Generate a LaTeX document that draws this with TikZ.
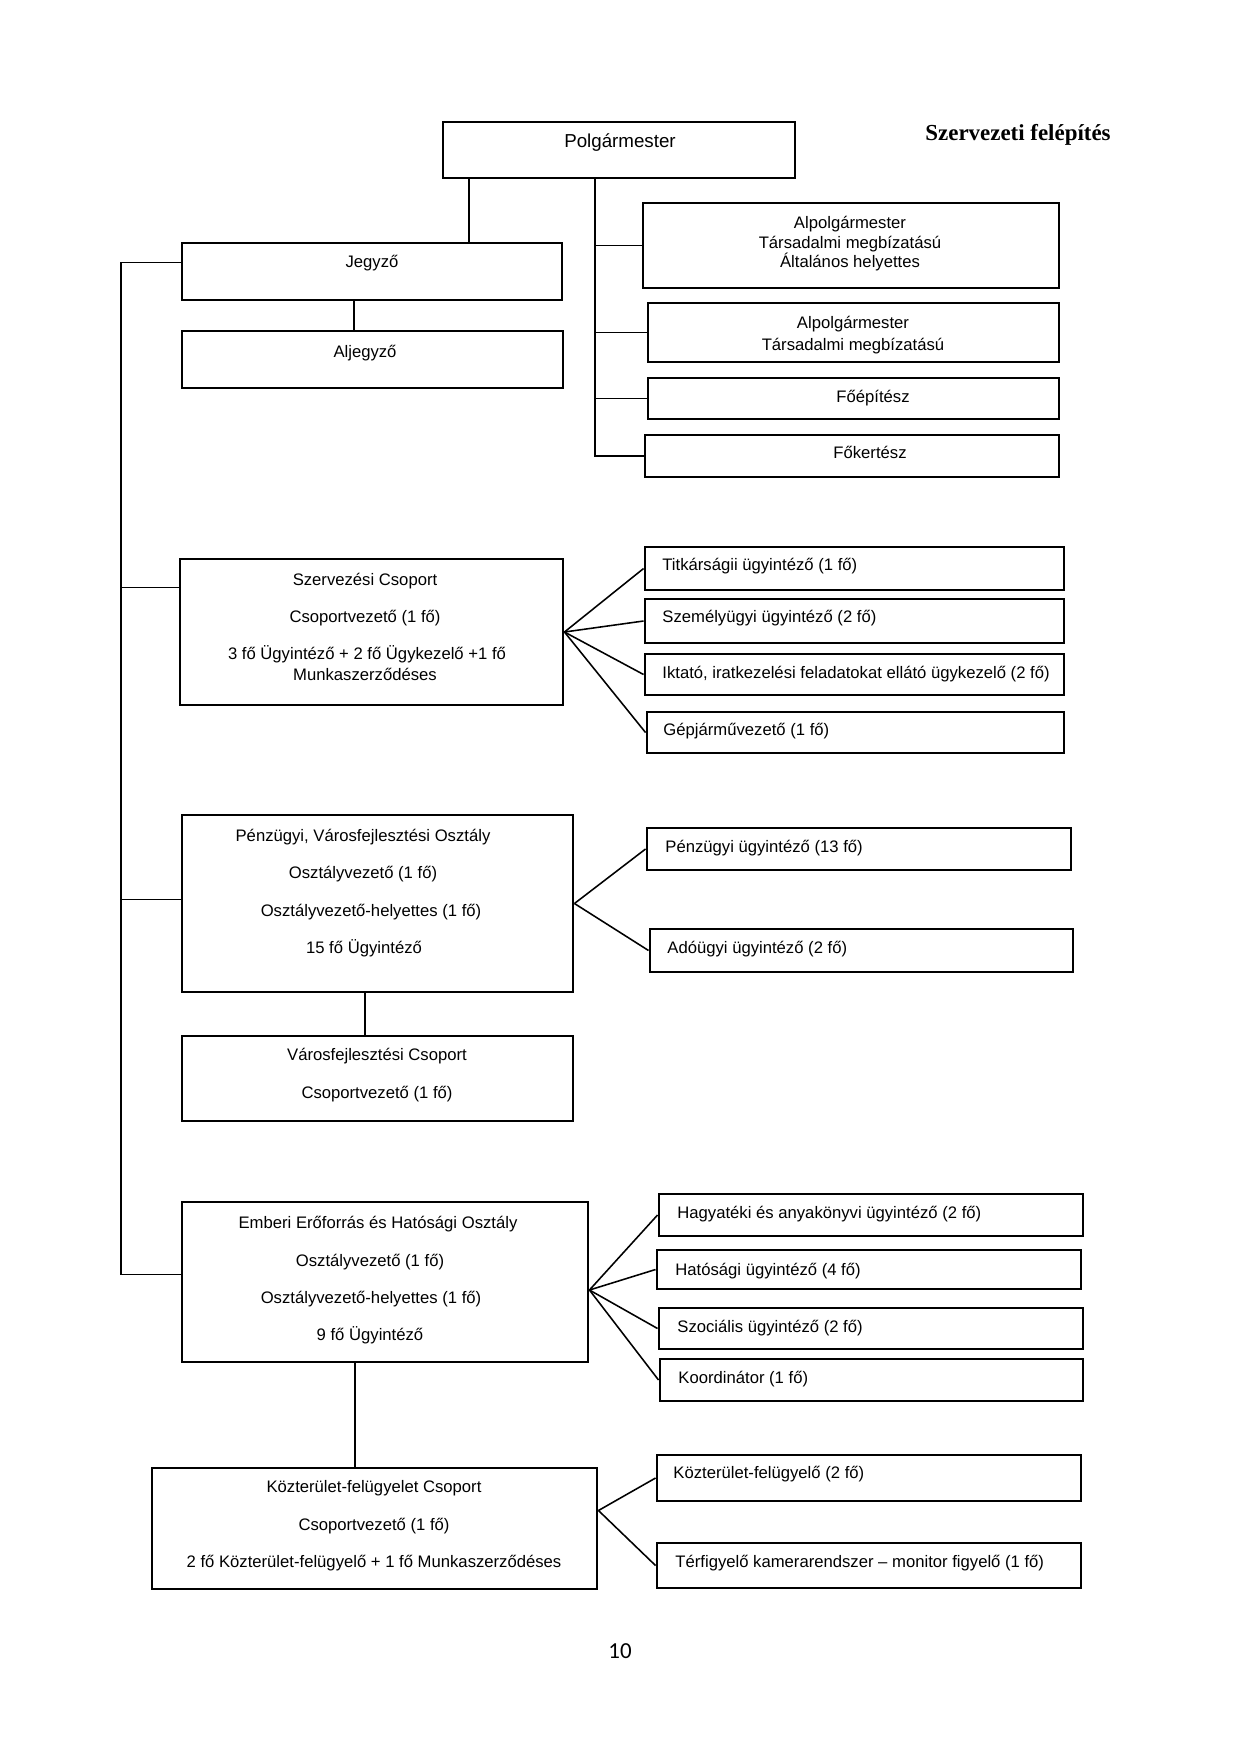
\documentclass[tikz,border=0pt]{standalone}
\usepackage{fontspec}
\setmainfont{Liberation Sans}
\newfontfamily\titlefont{Liberation Serif}
\newfontfamily\pagefont{Carlito}
\usetikzlibrary{fit,calc}
\tikzset{
  orgbox/.style={draw, line width=1.4pt, inner sep=0pt, rectangle},
  conn/.style={line width=0.75pt},
  txt/.style={inner sep=0pt, anchor=mid, font=\fontsize{8}{9.6}\selectfont},
  ltxt/.style={inner sep=0pt, anchor=mid west, font=\fontsize{8}{9.6}\selectfont},
}
\begin{document}
\begin{tikzpicture}[x=0.48pt,y=-0.48pt]
\useasboundingbox (0,0) rectangle (1240,1755);
\fill[white] (0,0) rectangle (1240,1755);

% title
\node[inner sep=0pt, font=\titlefont\bfseries\fontsize{11}{13}\selectfont] (title) at (1018,135) {Szervezeti felépítés};

% boxes
\node[orgbox, fit={(443,122)(795,178)}] (polg) {};
\node[orgbox, fit={(182,243)(562,300)}] (jegyzo) {};
\node[orgbox, fit={(182,331)(563,388)}] (aljegyzo) {};
\node[orgbox, fit={(643,203)(1059,288)}] (alp1) {};
\node[orgbox, fit={(648,303)(1059,362)}] (alp2) {};
\node[orgbox, fit={(648,378)(1059,419)}] (foep) {};
\node[orgbox, fit={(645,435)(1059,477)}] (foker) {};
\node[orgbox, fit={(180,559)(563,705)}] (szerv) {};
\node[orgbox, fit={(645,547)(1064,590)}] (titk) {};
\node[orgbox, fit={(645,599)(1064,643)}] (szem) {};
\node[orgbox, fit={(645,654)(1064,695)}] (ikt) {};
\node[orgbox, fit={(647,712)(1064,753)}] (gep) {};
\node[orgbox, fit={(182,815)(573,992)}] (penz) {};
\node[orgbox, fit={(647,828)(1071,870)}] (pu) {};
\node[orgbox, fit={(650,929)(1073,972)}] (ado) {};
\node[orgbox, fit={(182,1036)(573,1121)}] (varos) {};
\node[orgbox, fit={(182,1202)(588,1362)}] (emb) {};
\node[orgbox, fit={(659,1194)(1083,1236)}] (hagy) {};
\node[orgbox, fit={(657,1250)(1081,1289)}] (hat) {};
\node[orgbox, fit={(659,1308)(1083,1349)}] (szoc) {};
\node[orgbox, fit={(660,1359)(1083,1401)}] (koord) {};
\node[orgbox, fit={(152,1468)(597,1589)}] (kozt) {};
\node[orgbox, fit={(657,1455)(1081,1501)}] (kf) {};
\node[orgbox, fit={(657,1543)(1081,1588)}] (ter) {};

% texts
\node[txt, font=\fontsize{9}{11}\selectfont] (tpolg) at (620,142) {Polgármester};
\node[txt] (tjegy) at (372,262) {Jegyző};
\node[txt] (talj) at (365,352) {Aljegyző};
\node[txt] (ta1a) at (850,223) {Alpolgármester};
\node[txt] (ta1b) at (850,243) {Társadalmi megbízatású};
\node[txt] (ta1c) at (850,262) {Általános helyettes};
\node[txt] (ta2a) at (853,323) {Alpolgármester};
\node[txt] (ta2b) at (853,345) {Társadalmi megbízatású};
\node[txt] (tfoep) at (873,397) {Főépítész};
\node[txt] (tfok) at (870,453) {Főkertész};

\node[txt] (ts1) at (365,580) {Szervezési Csoport};
\node[txt] (ts2) at (365,617) {Csoportvezető (1 fő)};
\node[txt] (ts3) at (367,654) {3 fő Ügyintéző + 2 fő Ügykezelő +1 fő};
\node[txt] (ts4) at (365,675) {Munkaszerződéses};
\node[ltxt] (ttitk) at (662,565) {Titkárságii ügyintéző (1 fő)};
\node[ltxt] (tszem) at (662,617) {Személyügyi ügyintéző (2 fő)};
\node[ltxt] (tikt) at (662,673) {Iktató, iratkezelési feladatokat ellátó ügykezelő (2 fő)};
\node[ltxt] (tgep) at (663,730) {Gépjárművezető (1 fő)};

\node[txt] (tp1) at (363,836) {Pénzügyi, Városfejlesztési Osztály};
\node[txt] (tp2) at (363,873) {Osztályvezető (1 fő)};
\node[txt] (tp3) at (371,911) {Osztályvezető-helyettes (1 fő)};
\node[txt] (tp4) at (364,948) {15 fő Ügyintéző};
\node[ltxt] (tpu) at (665,847) {Pénzügyi ügyintéző (13 fő)};
\node[ltxt] (tado) at (667,948) {Adóügyi ügyintéző (2 fő)};
\node[txt] (tv1) at (377,1055) {Városfejlesztési Csoport};
\node[txt] (tv2) at (377,1093) {Csoportvezető (1 fő)};

\node[txt] (te1) at (378,1223) {Emberi Erőforrás és Hatósági Osztály};
\node[txt] (te2) at (370,1261) {Osztályvezető (1 fő)};
\node[txt] (te3) at (371,1298) {Osztályvezető-helyettes (1 fő)};
\node[txt] (te4) at (370,1335) {9 fő Ügyintéző};
\node[ltxt] (thagy) at (677,1213) {Hagyatéki és anyakönyvi ügyintéző (2 fő)};
\node[ltxt] (that) at (675,1270) {Hatósági ügyintéző (4 fő)};
\node[ltxt] (tszoc) at (677,1327) {Szociális ügyintéző (2 fő)};
\node[ltxt] (tkoord) at (678,1378) {Koordinátor (1 fő)};

\node[txt] (tk1) at (374,1487) {Közterület-felügyelet Csoport};
\node[txt] (tk2) at (374,1525) {Csoportvezető (1 fő)};
\node[txt] (tk3) at (374,1562) {2 fő Közterület-felügyelő + 1 fő Munkaszerződéses};
\node[ltxt] (tkf) at (673,1473) {Közterület-felügyelő (2 fő)};
\node[ltxt] (tter) at (675,1562) {Térfigyelő kamerarendszer -- monitor figyelő (1 fő)};

\node[inner sep=0pt, anchor=mid, font=\pagefont\fontsize{11}{13}\selectfont] (pg) at (620,1653) {10};

% helper coordinates
\coordinate (vx1) at (469,0);
\coordinate (vx2) at (595,0);
\coordinate (vx3) at (354,0);
\coordinate (vx4) at (365,0);
\coordinate (vx5) at (355,0);
\coordinate (lx) at (121,0);
\coordinate (jA) at ($(jegyzo.north west)+(0,21)$);
\coordinate (sA) at ($(szerv.north west)+(0,30)$);
\coordinate (pA) at ($(penz.north west)+(0,86)$);
\coordinate (eA) at ($(emb.north west)+(0,74)$);
\coordinate (eo) at ($(emb.east)+(0,8)$);
\coordinate (ko) at ($(kozt.east)+(0,-18)$);

% connectors
\draw[conn] (polg.south -| vx1) -- (jegyzo.north -| vx1);
\draw[conn] (polg.south -| vx2) |- (foker.west);
\draw[conn] (vx2 |- alp1.west) -- (alp1.west);
\draw[conn] (vx2 |- alp2.west) -- (alp2.west);
\draw[conn] (vx2 |- foep.west) -- (foep.west);
\draw[conn] (jegyzo.south -| vx3) -- (aljegyzo.north -| vx3);
\draw[conn] (jA) -| (lx |- eA) -- (eA);
\draw[conn] (lx |- sA) -- (sA);
\draw[conn] (lx |- pA) -- (pA);
\draw[conn] (penz.south -| vx4) -- (varos.north -| vx4);
\draw[conn] (emb.south -| vx5) -- (kozt.north -| vx5);
\foreach \n in {titk,szem,ikt,gep} \draw[conn] (szerv.east) -- (\n.west);
\foreach \n in {pu,ado} \draw[conn] (penz.east) -- (\n.west);
\foreach \n in {hagy,hat,szoc,koord} \draw[conn] (eo) -- (\n.west);
\foreach \n in {kf,ter} \draw[conn] (ko) -- (\n.west);
\end{tikzpicture}
\end{document}
